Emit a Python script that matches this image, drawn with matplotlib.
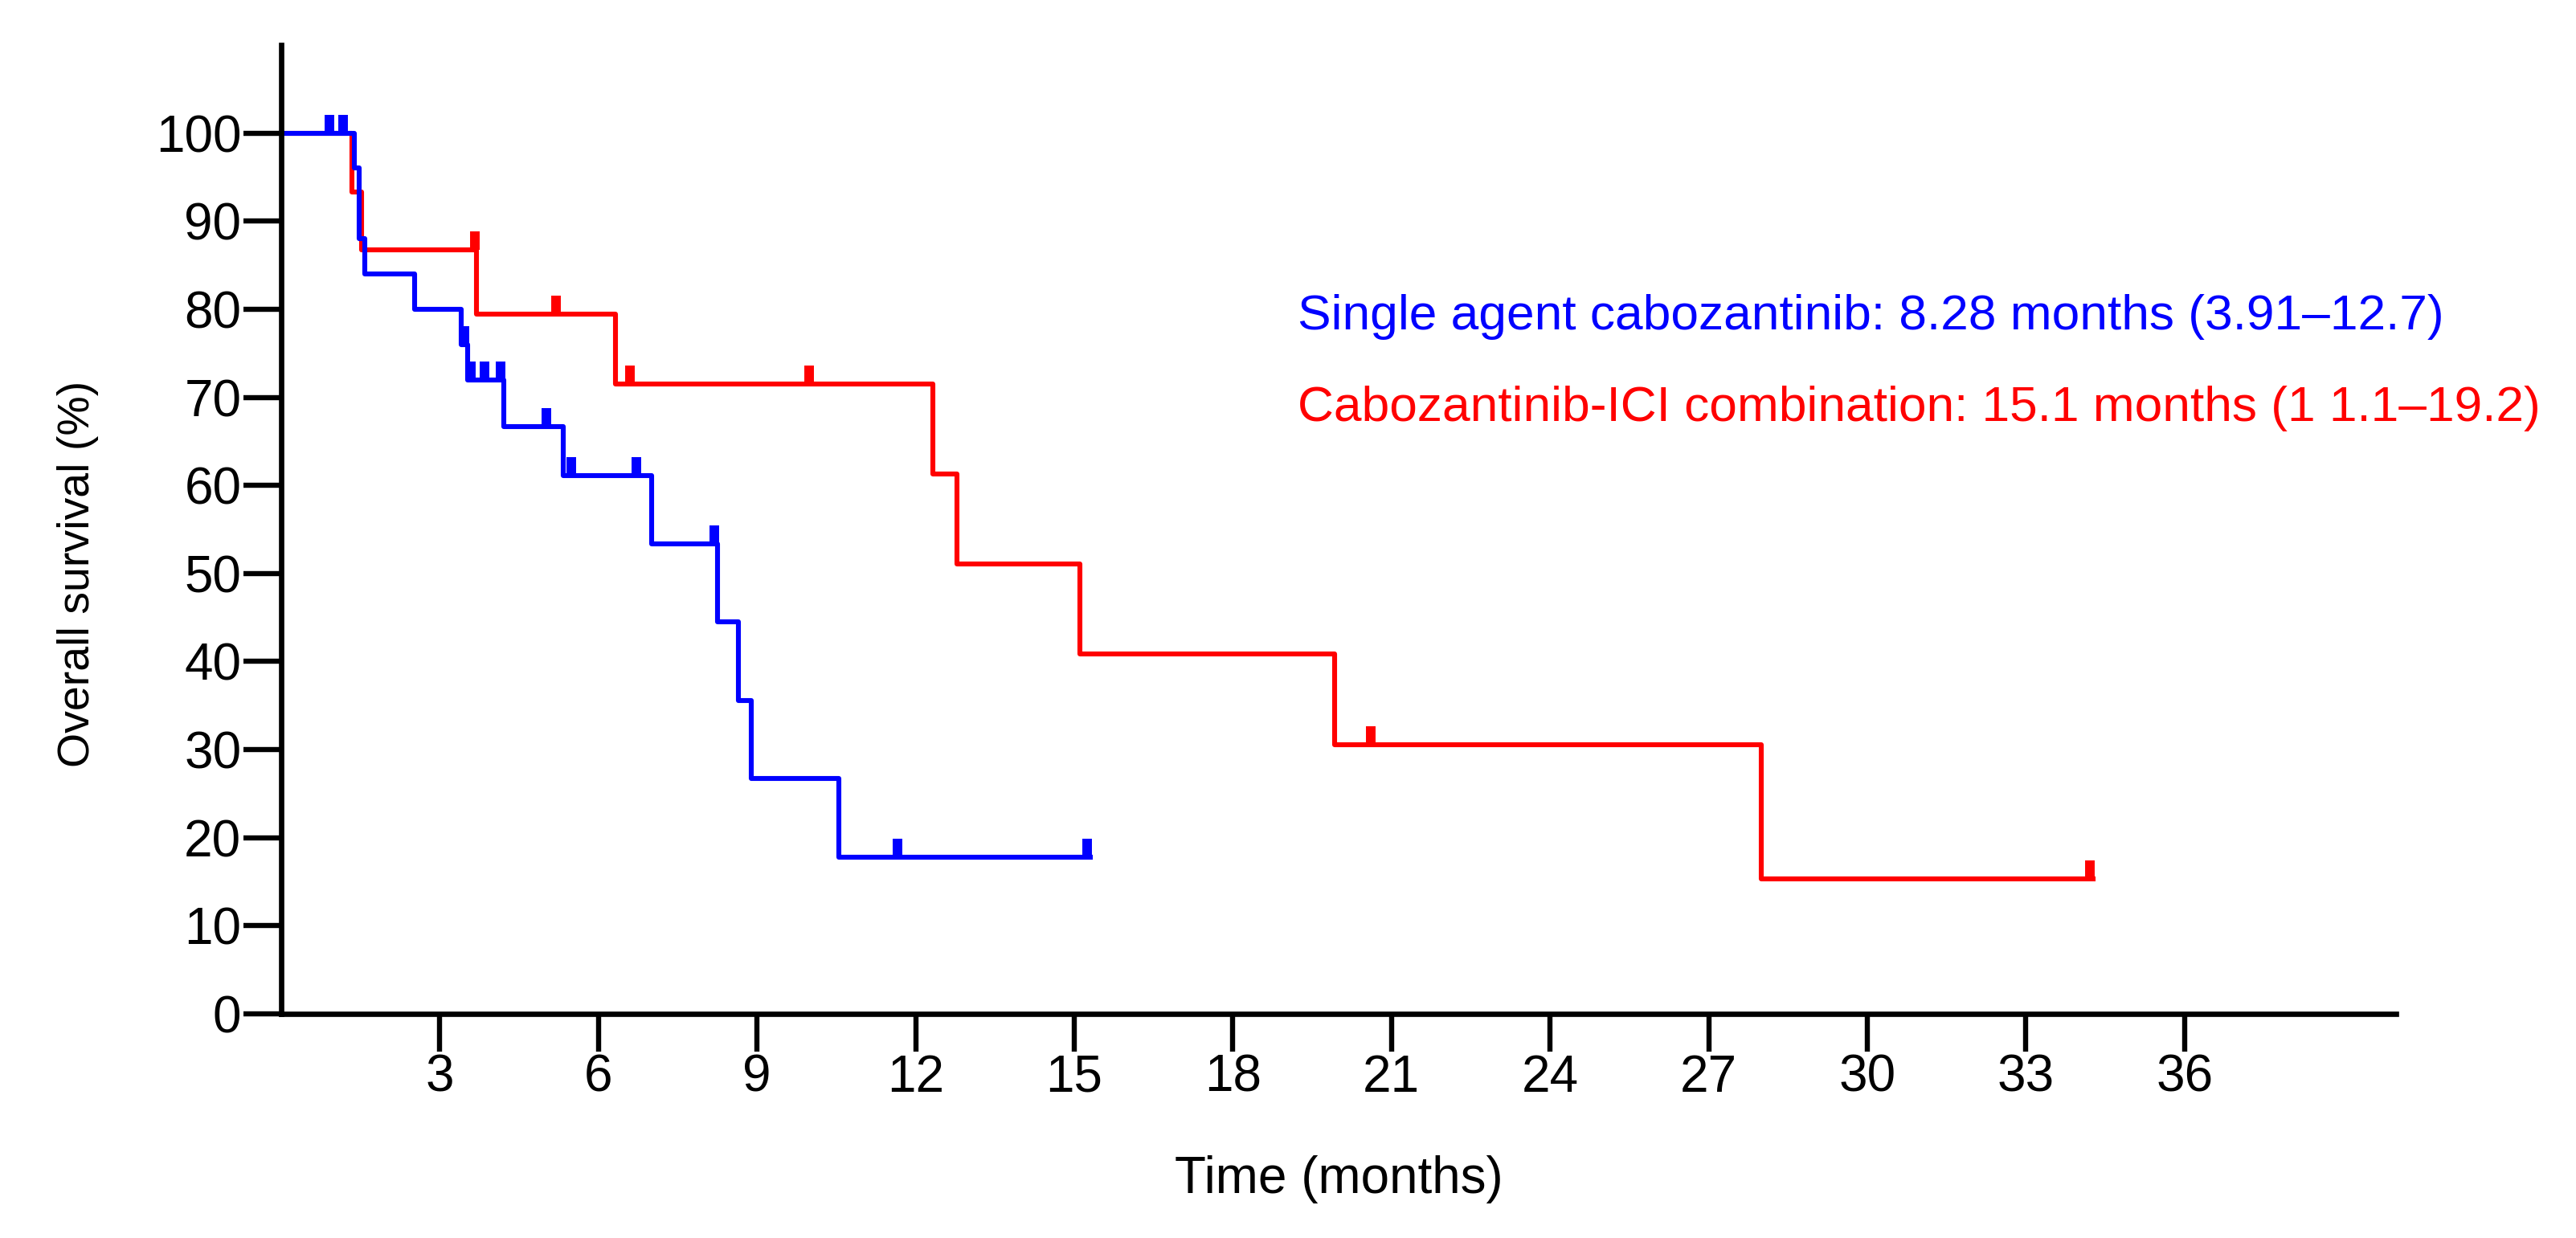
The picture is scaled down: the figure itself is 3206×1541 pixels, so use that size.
import matplotlib
matplotlib.use("Agg")
import matplotlib.pyplot as plt
from matplotlib.path import Path

plt.rcParams['font.family'] = ['Liberation Sans', 'DejaVu Sans']

# single agent cabozantinib (blue) - step changes
single_t = [0, 1.38, 1.48, 1.58, 2.52, 3.40, 3.52, 4.21, 5.34, 7.01, 8.25, 8.64, 8.89, 10.55, 15.30]
single_s = [100, 96.0, 88.0, 84.0, 80.0, 76.0, 72.0, 66.7, 61.1, 53.4, 44.5, 35.6, 26.7, 17.8, 17.8]
# censored patients
single_cens_t = [0.91, 1.17, 3.47, 3.59, 3.84, 4.15, 5.02, 5.48, 6.72, 8.19, 11.66, 15.24]
single_cens_s = [100, 100, 76.0, 72.0, 72.0, 72.0, 66.7, 61.1, 61.1, 53.4, 17.8, 17.8]

# cabozantinib + ICI (red)
combo_t = [0, 1.33, 1.52, 3.70, 6.32, 12.32, 12.78, 15.10, 19.92, 27.99, 34.27]
combo_s = [100, 93.3, 86.7, 79.4, 71.5, 61.3, 51.1, 40.9, 30.6, 15.3, 15.3]
combo_cens_t = [3.66, 5.20, 6.59, 9.99, 20.61, 34.21]
combo_cens_s = [86.7, 79.4, 71.5, 71.5, 30.6, 15.3]

xticks = [3, 6, 9, 12, 15, 18, 21, 24, 27, 30, 33, 36]
yticks = [0, 10, 20, 30, 40, 50, 60, 70, 80, 90, 100]

single_label = "Single agent cabozantinib: 8.28 months (3.91\u201312.7)"
combo_label = "Cabozantinib-ICI combination: 15.1 months (1 1.1\u201319.2)"

W, H = 3206, 1541
fig = plt.figure(figsize=(W / 200, H / 200), dpi=200)
ax = fig.add_axes([350 / W, 1 - 1262 / H, (2982 - 350) / W, (1262 - 56) / H])

# censor tick: a short vertical stroke going up from the curve
cens = Path([(0, 0), (0, 1)])

ax.step(combo_t, combo_s, where='post', color='#ff0000', lw=2.2)
ax.plot(combo_cens_t, combo_cens_s, ls='none', marker=cens, ms=16.6,
        mew=4.3, mec='#ff0000')
ax.step(single_t, single_s, where='post', color='#0000ff', lw=2.2)
ax.plot(single_cens_t, single_cens_s, ls='none', marker=cens, ms=16.6,
        mew=4.3, mec='#0000ff')

ax.set_xlim(0, 40)
ax.set_ylim(0, 110)
ax.set_xticks(xticks)
ax.set_yticks(yticks)
for side in ['top', 'right']:
    ax.spines[side].set_visible(False)
for side in ['left', 'bottom']:
    ax.spines[side].set_linewidth(2.4)
ax.tick_params(axis='both', direction='out', length=16.9, width=2.3,
               labelsize=23, colors='black')
ax.tick_params(axis='x', pad=1)
ax.tick_params(axis='y', pad=1)

fig.text(97 / W, 1 - 714 / H, "Overall survival (%)", rotation=90,
         ha='center', va='center', fontsize=20)
fig.text(1666 / W, 1 - 1485 / H, "Time (months)", ha='center',
         va='baseline', fontsize=23)

fig.text(1615 / W, 1 - 410 / H, single_label, color='#0000ff',
         ha='left', va='baseline', fontsize=22.4)
fig.text(1615 / W, 1 - 524 / H, combo_label, color='#ff0000',
         ha='left', va='baseline', fontsize=22.4)

fig.savefig("out.png", dpi=200, facecolor='white')
